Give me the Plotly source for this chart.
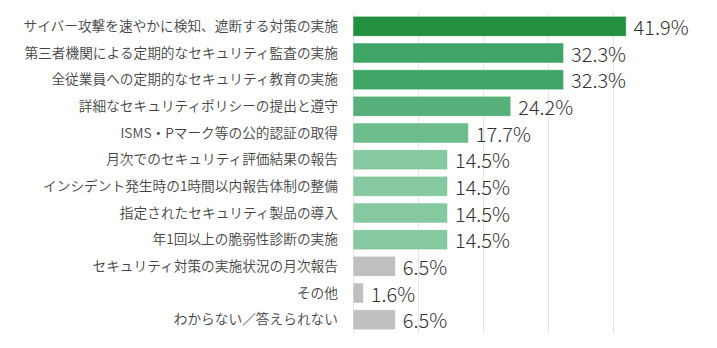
import plotly.graph_objects as go

categories = [
    "サイバー攻撃を速やかに検知、遮断する対策の実施",
    "第三者機関による定期的なセキュリティ監査の実施",
    "全従業員への定期的なセキュリティ教育の実施",
    "詳細なセキュリティポリシーの提出と遵守",
    "ISMS・Pマーク等の公的認証の取得",
    "月次でのセキュリティ評価結果の報告",
    "インシデント発生時の1時間以内報告体制の整備",
    "指定されたセキュリティ製品の導入",
    "年1回以上の脆弱性診断の実施",
    "セキュリティ対策の実施状況の月次報告",
    "その他",
    "わからない／答えられない",
]
values = [41.9, 32.3, 32.3, 24.2, 17.7, 14.5, 14.5, 14.5, 14.5, 6.5, 1.6, 6.5]
colors = ["#22903F", "#3EA566", "#3EA566", "#57B07A", "#6DBD8C", "#86C9A0",
          "#86C9A0", "#86C9A0", "#86C9A0", "#C0C0C0", "#C0C0C0", "#C0C0C0"]
value_labels = [f"\u00a0{v:.1f}%" for v in values]

fig = go.Figure(go.Bar(
    x=values, y=categories, orientation="h",
    marker=dict(color=colors, line=dict(color="rgba(255,255,255,0.5)", width=1)),
    text=value_labels, textposition="outside", cliponaxis=False,
    constraintext="none",
    textfont=dict(family="Noto Sans CJK JP", size=20, color="#333333", weight=300),
    width=0.75,
))
fig.update_layout(
    width=717, height=348,
    margin=dict(l=353, r=38, t=13, b=15),
    plot_bgcolor="white", paper_bgcolor="white",
    showlegend=False,
    font=dict(family="Noto Sans CJK JP", size=13, color="#444444"),
)
fig.update_xaxes(range=[0, 50], dtick=10, showgrid=True, gridcolor="#E3E3E3",
                 gridwidth=1, showticklabels=False, zeroline=True,
                 zerolinecolor="#E3E3E3", zerolinewidth=1, fixedrange=True)
fig.update_yaxes(autorange="reversed", showgrid=False, ticklabelstandoff=14,
                 tickfont=dict(family="Noto Sans CJK JP", size=13.7, color="#444444", weight=350),
                 fixedrange=True)
fig.write_html("out.html")
